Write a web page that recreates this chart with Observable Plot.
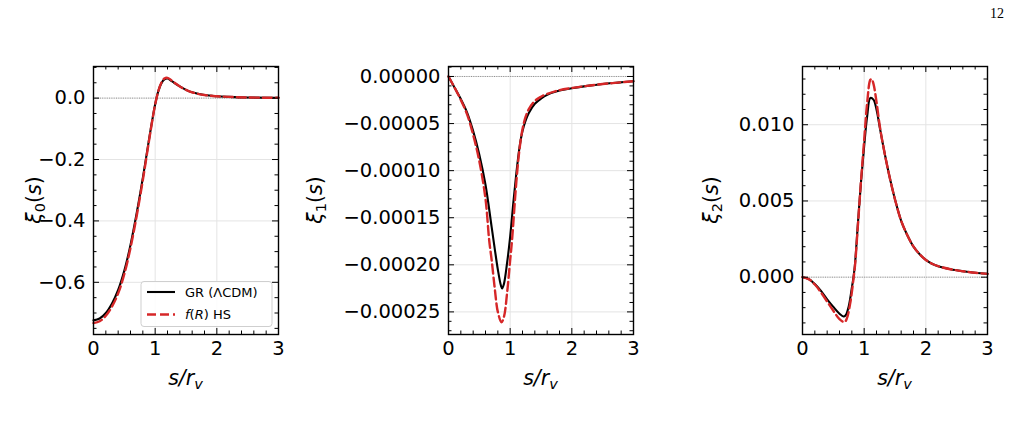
<!DOCTYPE html>
<html><head><meta charset="utf-8">
<script src="https://cdn.jsdelivr.net/npm/d3@7"></script>
<script src="https://cdn.jsdelivr.net/npm/@observablehq/plot@0.6"></script>
<style>
body{margin:0;background:#fff;}
#wrap{position:relative;width:1014px;height:433px;overflow:hidden;background:#fff;font-family:"DejaVu Sans",sans-serif;}
.panel{position:absolute;top:0;}
#page{position:absolute;left:990px;top:6px;font-family:"Liberation Serif","DejaVu Serif",serif;font-size:14px;color:#000;}
</style></head><body>
<div id="wrap"><div id="page">12</div></div>
<script>
// ---------- data ----------
// Panel 1: monopole xi_0(s)
const s_xi0 = [0,0.1,0.2,0.3,0.4,0.5,0.6,0.7,0.8,0.9,0.95,1.0,1.05,1.1,1.15,1.2,1.25,1.3,1.4,1.5,1.6,1.8,2.0,2.2,2.5,3.0];
const xi0_gr = [-0.724,-0.718,-0.700,-0.669,-0.625,-0.562,-0.478,-0.375,-0.26,-0.135,-0.075,-0.02,0.022,0.048,0.061,0.064,0.058,0.051,0.038,0.027,0.019,0.010,0.006,0.004,0.002,0.001];
const xi0_fr = [-0.733,-0.727,-0.709,-0.679,-0.636,-0.573,-0.488,-0.384,-0.267,-0.139,-0.077,-0.021,0.022,0.05,0.064,0.066,0.060,0.052,0.038,0.027,0.019,0.010,0.006,0.004,0.002,0.001];

// Panel 2: dipole xi_1(s)
const s_xi1_gr = [0,0.1,0.2,0.3,0.4,0.5,0.6,0.7,0.75,0.8,0.85,0.87,0.9,0.95,1.0,1.05,1.1,1.15,1.2,1.25,1.3,1.4,1.5,1.6,1.8,2.0,2.25,2.5,2.75,3.0];
const xi1_gr = [0,-1.2e-5,-2.4e-5,-3.8e-5,-5.8e-5,-8.3e-5,-1.15e-4,-1.6e-4,-1.83e-4,-2.05e-4,-2.22e-4,-2.25e-4,-2.2e-4,-1.98e-4,-1.7e-4,-1.35e-4,-1.03e-4,-7.6e-5,-5.8e-5,-4.7e-5,-3.9e-5,-2.9e-5,-2.35e-5,-1.95e-5,-1.5e-5,-1.25e-5,-1.0e-5,-8e-6,-6.5e-6,-5e-6];
const s_xi1_fr = [0,0.1,0.2,0.3,0.4,0.5,0.6,0.66,0.7,0.75,0.8,0.86,0.9,0.95,1.0,1.03,1.1,1.15,1.2,1.25,1.3,1.4,1.5,1.6,1.8,2.0,2.25,2.5,2.75,3.0];
const xi1_fr = [0,-1.2e-5,-2.5e-5,-4.0e-5,-6.2e-5,-9.0e-5,-1.3e-4,-1.74e-4,-1.95e-4,-2.25e-4,-2.5e-4,-2.61e-4,-2.55e-4,-2.3e-4,-1.95e-4,-1.74e-4,-1.12e-4,-7.8e-5,-5.6e-5,-4.3e-5,-3.5e-5,-2.6e-5,-2.15e-5,-1.85e-5,-1.45e-5,-1.22e-5,-1.0e-5,-8e-6,-6.5e-6,-5e-6];

// Panel 3: quadrupole xi_2(s)
const s_xi2_gr = [0,0.1,0.2,0.3,0.4,0.5,0.6,0.665,0.7,0.75,0.8,0.827,0.85,0.9,0.95,1.0,1.05,1.1,1.15,1.2,1.25,1.3,1.4,1.5,1.6,1.7,1.8,1.9,2.0,2.1,2.2,2.4,2.6,2.8,3.0];
const xi2_gr = [0,-1.2e-4,-4.5e-4,-9.0e-4,-1.45e-3,-1.95e-3,-2.4e-3,-2.58e-3,-2.5e-3,-1.9e-3,-7e-4,0,8e-4,3.6e-3,6.3e-3,8.6e-3,1.06e-2,1.175e-2,1.165e-2,1.1e-2,9.9e-3,8.8e-3,6.8e-3,5.1e-3,3.7e-3,2.75e-3,2.0e-3,1.5e-3,1.13e-3,8.8e-4,7.2e-4,5.2e-4,3.9e-4,2.9e-4,2.2e-4];
const s_xi2_fr = [0,0.1,0.2,0.3,0.4,0.5,0.6,0.68,0.72,0.77,0.8,0.83,0.85,0.9,0.95,1.0,1.05,1.1,1.12,1.15,1.2,1.25,1.3,1.4,1.5,1.6,1.7,1.8,1.9,2.0,2.1,2.2,2.4,2.6,2.8,3.0];
const xi2_fr = [0,-1.3e-4,-4.8e-4,-1.0e-3,-1.6e-3,-2.2e-3,-2.75e-3,-2.95e-3,-2.7e-3,-1.8e-3,-1.0e-3,0,7e-4,3.5e-3,6.4e-3,9.0e-3,1.15e-2,1.295e-2,1.3e-2,1.27e-2,1.15e-2,1.0e-2,8.8e-3,6.8e-3,5.1e-3,3.7e-3,2.75e-3,2.0e-3,1.5e-3,1.13e-3,8.8e-4,7.2e-4,5.2e-4,3.9e-4,2.9e-4,2.2e-4];

// tick values and labels
const xTicks = [0,1,2,3];
const xMinorStep = 0.2;
const yTicks0 = [-0.6,-0.4,-0.2,0.0];
const yTicks1 = [-0.00025,-0.0002,-0.00015,-0.0001,-0.00005,0];
const yTicks2 = [0,0.005,0.01];
const seriesNames = ["GR (ΛCDM)", "f(R) HS"];

// ---------- drawing ----------
const wrap = document.getElementById("wrap");
const FRAME_W = 185, FRAME_TOP = 66, FRAME_BOT = 334, H = 433;
const FH = FRAME_BOT - FRAME_TOP;
const RED = "#d62728", DASH = "9,4";

function zip(s, v) { return s.map((x, i) => ({s: x, v: v[i]})); }

function makePanel({frameLeft, mL, domain, yMajor, yMinorStep, fmt, gr, fr, idx, ylabDx}) {
  const mR = 40;
  const W = mL + FRAME_W + mR;
  const xMinor = d3.range(0, 3 + 1e-9, xMinorStep).filter(d => Math.abs(d - Math.round(d)) > 1e-6);
  const lo = Math.ceil(domain[0] / yMinorStep - 1e-6), hi = Math.floor(domain[1] / yMinorStep + 1e-6);
  const yMinor = d3.range(lo, hi + 1).map(k => k * yMinorStep)
    .filter(d => !yMajor.some(m => Math.abs(m - d) < yMinorStep * 1e-3));
  const tickC = {stroke: "black", strokeWidth: 1};
  const plot = Plot.plot({
    width: W, height: H,
    marginLeft: mL, marginRight: mR, marginTop: FRAME_TOP, marginBottom: H - FRAME_BOT,
    style: {background: "transparent", fontFamily: "DejaVu Sans, sans-serif", fontSize: "19.5px", color: "black"},
    x: {domain: [0, 3]},
    y: {domain},
    marks: [
      Plot.gridX(xTicks, {stroke: "#e4e4e4", strokeOpacity: 1, strokeWidth: 1}),
      Plot.gridY(yMajor, {stroke: "#e4e4e4", strokeOpacity: 1, strokeWidth: 1}),
      Plot.ruleY([0], {stroke: "#777", strokeWidth: 0.8, strokeDasharray: "1,1.3"}),
      Plot.line(gr, {x: "s", y: "v", stroke: "black", strokeWidth: 2.1, curve: "catmull-rom"}),
      Plot.line(fr, {x: "s", y: "v", stroke: RED, strokeWidth: 2.4, strokeDasharray: DASH, curve: "catmull-rom"}),
      // inward ticks on all four sides
      Plot.tickX(xTicks, {insetTop: FH - 6, ...tickC}),
      Plot.tickX(xTicks, {insetBottom: FH - 6, ...tickC}),
      Plot.tickX(xMinor, {insetTop: FH - 3.5, ...tickC}),
      Plot.tickX(xMinor, {insetBottom: FH - 3.5, ...tickC}),
      Plot.tickY(yMajor, {insetRight: FRAME_W - 6, ...tickC}),
      Plot.tickY(yMajor, {insetLeft: FRAME_W - 6, ...tickC}),
      Plot.tickY(yMinor, {insetRight: FRAME_W - 3.5, ...tickC}),
      Plot.tickY(yMinor, {insetLeft: FRAME_W - 3.5, ...tickC}),
      Plot.frame({stroke: "black", strokeWidth: 1.4}),
      Plot.axisX(xTicks, {tickSize: 0, tickPadding: 7, tickFormat: d3.format("d"), label: null, fontSize: 19.5}),
      Plot.axisY(yMajor, {tickSize: 0, tickPadding: 8, tickFormat: d3.format(fmt), label: null, fontSize: 19.5})
    ]
  });
  plot.classList.add("panel");
  plot.style.left = (frameLeft - mL) + "px";
  plot.style.position = "absolute";
  plot.style.top = "0px";
  plot.style.overflow = "visible";
  wrap.appendChild(plot);

  const svg = d3.select(plot);
  // x label: s/r_v
  const xl = svg.append("text")
    .attr("x", mL + FRAME_W / 2).attr("y", 385)
    .attr("text-anchor", "middle")
    .attr("font-family", "DejaVu Sans, sans-serif").attr("font-size", 20.5).attr("fill", "black");
  xl.append("tspan").attr("font-style", "italic").text("s/r");
  xl.append("tspan").attr("font-style", "italic").attr("font-size", 14.5).attr("dy", 4).text("v");
  // y label: xi_n(s)
  const yl = svg.append("text")
    .attr("transform", `translate(${mL - ylabDx},${(FRAME_TOP + FRAME_BOT) / 2}) rotate(-90)`)
    .attr("text-anchor", "middle")
    .attr("font-family", "DejaVu Sans, sans-serif").attr("font-size", 20.5).attr("fill", "black");
  yl.append("tspan").attr("font-style", "italic").text("ξ");
  yl.append("tspan").attr("font-size", 14.5).attr("dy", 4).text(String(idx));
  yl.append("tspan").attr("dy", -4).text("(");
  yl.append("tspan").attr("font-style", "italic").text("s");
  yl.append("tspan").text(")");
  return {plot, svg, mL};
}

const p1 = makePanel({frameLeft: 93, mL: 90, domain: [-0.77, 0.103], yMajor: yTicks0, yMinorStep: 0.05, fmt: ".1f",
  gr: zip(s_xi0, xi0_gr), fr: zip(s_xi0, xi0_fr), idx: 0, ylabDx: 52});
makePanel({frameLeft: 448, mL: 135, domain: [-0.000274, 0.0000106], yMajor: yTicks1, yMinorStep: 0.00001, fmt: ".5f",
  gr: zip(s_xi1_gr, xi1_gr), fr: zip(s_xi1_fr, xi1_fr), idx: 1, ylabDx: 126});
makePanel({frameLeft: 802, mL: 135, domain: [-0.00376, 0.01382], yMajor: yTicks2, yMinorStep: 0.001, fmt: ".3f",
  gr: zip(s_xi2_gr, xi2_gr), fr: zip(s_xi2_fr, xi2_fr), idx: 2, ylabDx: 84});

// legend in panel 1 (lower right)
const lg = p1.svg.append("g").attr("transform", `translate(${p1.mL + 48},${FRAME_BOT - 52.5})`)
  .attr("text-anchor", "start");
lg.append("rect").attr("x", 0).attr("y", 0).attr("width", 131).attr("height", 45).attr("rx", 3)
  .attr("fill", "white").attr("fill-opacity", 0.85).attr("stroke", "#cfcfcf").attr("stroke-width", 1);
lg.append("line").attr("x1", 6).attr("x2", 34).attr("y1", 10.5).attr("y2", 10.5).attr("stroke", "black").attr("stroke-width", 2.1);
lg.append("line").attr("x1", 6).attr("x2", 34).attr("y1", 33).attr("y2", 33).attr("stroke", RED).attr("stroke-width", 2.4).attr("stroke-dasharray", DASH);
const t1 = lg.append("text").attr("x", 44).attr("y", 15).attr("text-anchor", "start")
  .attr("font-family", "DejaVu Sans, sans-serif").attr("font-size", 13).attr("fill", "black").text(seriesNames[0]);
const t2 = lg.append("text").attr("x", 44).attr("y", 37.5).attr("text-anchor", "start")
  .attr("font-family", "DejaVu Sans, sans-serif").attr("font-size", 13).attr("fill", "black");
t2.append("tspan").attr("font-style", "italic").text("f");
t2.append("tspan").text("(");
t2.append("tspan").attr("font-style", "italic").text("R");
t2.append("tspan").text(") HS");
</script>
</body></html>
